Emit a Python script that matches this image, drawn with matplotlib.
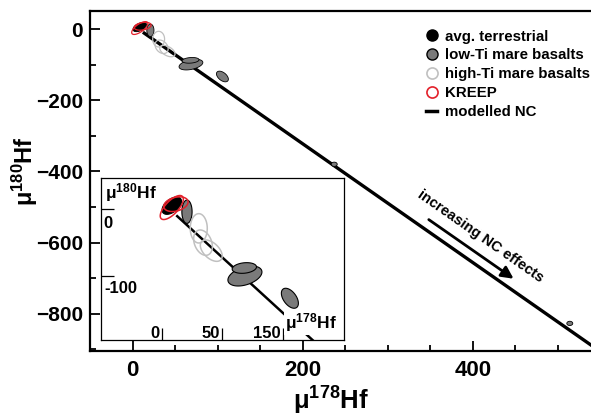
import numpy as np
import matplotlib
matplotlib.use('Agg')
import matplotlib.pyplot as plt
from matplotlib.lines import Line2D

plt.rcParams['font.family'] = ['Liberation Sans', 'DejaVu Sans']
plt.rcParams['font.weight'] = 'bold'
plt.rcParams['mathtext.fontset'] = 'custom'
plt.rcParams['mathtext.rm'] = 'Liberation Sans:bold'
plt.rcParams['mathtext.bf'] = 'Liberation Sans:bold'
plt.rcParams['mathtext.default'] = 'bf'

# modelled NC line (mu178Hf, mu180Hf)
nc_x = [12, 560]
nc_y = [-9, -923]

# error ellipses: centre x, centre y, half-width x, half-height y, correlation
terr = [(8.3, 5.5, 8, 13, 0.5)]
kreep = [(8.3, 2.7, 9.5, 18, 0.7), (11.7, 7.7, 10, 11, 0.3)]
lowti = [(20.8, -3.6, 4.2, 17.5, 0.0), (68.5, -100, 14, 15, 0.4),
         (68, -88, 10, 8, 0.2), (105.5, -133.4, 7, 15, -0.5)]
highti = [(30.5, -28.5, 7, 22, 0.0), (34, -50, 7.7, 19, -0.3), (40.8, -62, 9, 16, -0.5)]
nc_pts = [(237, -380, 3.5, 6, 0.0), (514, -827, 3.5, 6, 0.0)]

legend_labels = ['avg. terrestrial', 'low-Ti mare basalts', 'high-Ti mare basalts',
                 'KREEP', 'modelled NC']

GRAY = '#7a7a7a'
LGRAY = '#c0c0c0'
RED = '#e3202a'


def ellipse(ax, e, **kw):
    cx, cy, sx, sy, r = e
    t = np.linspace(0, 2 * np.pi, 120)
    x = cx + sx * np.cos(t)
    y = cy + sy * (r * np.cos(t) + np.sqrt(1 - r * r) * np.sin(t))
    ax.fill(x, y, **kw)


def draw_data(ax, lw_e):
    for e in lowti:
        ellipse(ax, e, facecolor=GRAY, edgecolor='black', lw=lw_e, zorder=3)
    for e in highti:
        ellipse(ax, e, facecolor='none', edgecolor=LGRAY, lw=lw_e + 0.3, zorder=3)
    for e in terr:
        ellipse(ax, e, facecolor='black', edgecolor='black', lw=lw_e, zorder=4)
    for e in kreep:
        ellipse(ax, e, facecolor='none', edgecolor=RED, lw=lw_e + 0.3, zorder=5)


fig = plt.figure(figsize=(5.91, 4.18), dpi=100)
ax = fig.add_axes([0.1523, 0.161, 0.858, 0.8127])

ax.plot(nc_x, nc_y, color='black', lw=2.4, zorder=2, solid_capstyle='butt')
draw_data(ax, 0.6)
for e in nc_pts:
    ellipse(ax, e, facecolor=GRAY, edgecolor='black', lw=0.6, zorder=3)

ax.set_xlim(-50.2, 546.1)
ax.set_ylim(-903.7, 50.6)
ax.set_xticks([0, 200, 400])
ax.set_xticks(np.arange(-50, 550, 50), minor=True)
ax.set_yticks([0, -200, -400, -600, -800])
ax.set_yticks(np.arange(-900, 50, 100), minor=True)
ax.tick_params(which='both', direction='in', width=1.3)
ax.tick_params(which='major', length=7)
ax.tick_params(which='minor', length=4.5)
ax.tick_params(axis='x', labelsize=16, pad=7)
ax.tick_params(axis='y', labelsize=15, pad=5)
for s in ax.spines.values():
    s.set_linewidth(1.6)

ax.set_xlabel(r'μ$^{178}$Hf', fontsize=18.5, fontweight='bold', va='center')
ax.xaxis.set_label_coords(0.4755, -0.148)
ax.set_ylabel(r'μ$^{180}$Hf', fontsize=17, fontweight='bold', va='center')
ax.yaxis.set_label_coords(-0.128, 0.529)

ax.annotate('', xy=(450.6, -706), xytext=(345.5, -531),
            arrowprops=dict(arrowstyle='-|>', color='black', lw=2, mutation_scale=18))
ax.text(409.5, -582, 'increasing NC effects', rotation=-35, rotation_mode='anchor',
        ha='center', va='center', fontsize=10.5, fontweight='bold')

handles = [
    Line2D([], [], ls='none', marker='o', ms=8, mfc='black', mec='black'),
    Line2D([], [], ls='none', marker='o', ms=8, mfc=GRAY, mec='black', mew=1),
    Line2D([], [], ls='none', marker='o', ms=8, mfc='white', mec=LGRAY, mew=1.2),
    Line2D([], [], ls='none', marker='o', ms=8, mfc='none', mec=RED, mew=1.2),
    Line2D([], [], color='black', lw=2.5),
]
ax.legend(handles, legend_labels, loc='upper left', bbox_to_anchor=(426 / 591, 1 - 29.5 / 418),
          bbox_transform=fig.transFigure, frameon=False, fontsize=10.8, handlelength=0.75,
          handletextpad=0.5, labelspacing=0.33, borderpad=0, borderaxespad=0)

# inset
ins = fig.add_axes([0.1704, 0.1866, 0.4122, 0.3868])
ins.plot(nc_x, nc_y, color='black', lw=1.8, zorder=2, solid_capstyle='butt')
draw_data(ins, 0.8)
ins.set_xlim(-50.2, 150.3)
ins.set_ylim(-196, 46.5)
ins.set_xticks([0, 50, 100])
ins.set_yticks([0, -100])
ins.tick_params(direction='in', length=9, width=0.9, labelbottom=False, labelleft=False)
for s in ins.spines.values():
    s.set_linewidth(0.9)

ins_xt = [0, 50, 100]
ins_xl = ['0', '50', '150']
for xv, lab in zip(ins_xt, ins_xl):
    ins.text(xv - 2, -193.4, lab, ha='right', va='baseline', fontsize=12, fontweight='bold')
ins.text(-48, -28.5, '0', ha='left', va='baseline', fontsize=12, fontweight='bold')
ins.text(-47.5, -126, '-100', ha='left', va='baseline', fontsize=12, fontweight='bold')
ins.text(-46.6, 16.5, r'μ$^{180}$Hf', ha='left', va='baseline', fontsize=12.5, fontweight='bold')
ins.text(101.5, -178, r'μ$^{178}$Hf', ha='left', va='baseline', fontsize=12.5, fontweight='bold',
         zorder=6, bbox=dict(facecolor='white', edgecolor='none', pad=1))

fig.savefig('out.png', dpi=100)
